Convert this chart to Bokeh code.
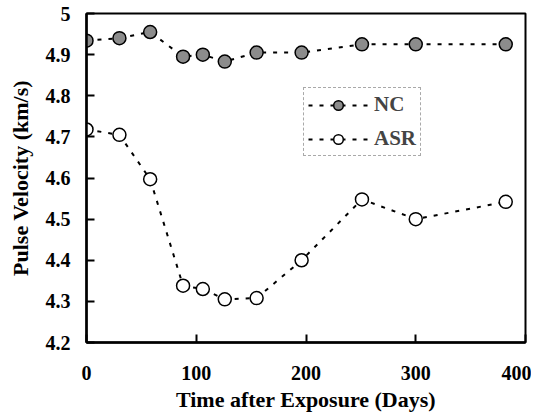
from bokeh.plotting import figure
from bokeh.models import Range1d, FixedTicker, Legend, LegendItem
from bokeh.embed import file_html
from bokeh.resources import INLINE

days = [0, 30, 58, 88, 106, 126, 155, 196, 251, 300, 382]
nc = [4.934, 4.940, 4.955, 4.895, 4.900, 4.883, 4.905, 4.905, 4.925, 4.925, 4.925]
asr = [4.718, 4.705, 4.597, 4.338, 4.330, 4.305, 4.308, 4.400, 4.548, 4.500, 4.542]
x_ticks = [0, 100, 200, 300, 400]
y_ticks = [4.2, 4.3, 4.4, 4.5, 4.6, 4.7, 4.8, 4.9, 5.0]

FONT = "Liberation Serif"

p = figure(width=531, height=418, output_backend="svg", toolbar_location=None,
           x_range=Range1d(0, 400), y_range=Range1d(4.2, 5.0),
           min_border_left=86, min_border_top=13, min_border_right=6, min_border_bottom=76)
p.background_fill_color = "white"
p.border_fill_color = "white"
p.outline_line_color = "black"
p.outline_line_width = 2
p.xgrid.visible = False
p.ygrid.visible = False

for ax in (p.xaxis[0], p.yaxis[0]):
    ax.axis_line_width = 2.5
    ax.axis_line_color = "black"
    ax.major_tick_in = 8
    ax.major_tick_out = 0
    ax.minor_tick_line_color = None
    ax.major_tick_line_width = 2
    ax.major_label_text_font = FONT
    ax.major_label_text_font_style = "bold"
    ax.major_label_text_font_size = "20px"
    ax.major_label_text_color = "black"
    ax.axis_label_text_font = FONT
    ax.axis_label_text_font_style = "bold"
    ax.axis_label_text_font_size = "22px"
    ax.axis_label_text_color = "black"

p.xaxis.ticker = FixedTicker(ticks=x_ticks)
p.yaxis.ticker = FixedTicker(ticks=y_ticks)
p.yaxis.major_label_overrides = {5.0: "5"}
p.xaxis.major_label_standoff = 23
p.yaxis.major_label_standoff = 16
p.xaxis.axis_label = "Time after Exposure (Days)"
p.yaxis.axis_label = "Pulse Velocity (km/s)"
p.xaxis.axis_label_standoff = 4
p.yaxis.axis_label_standoff = 10

l1 = p.line(days, nc, line_color="black", line_width=2, line_dash="4 7")
s1 = p.scatter(days, nc, size=13, fill_color="#8c8c8c", line_color="black", line_width=1.5)
l2 = p.line(days, asr, line_color="black", line_width=2, line_dash="4 7")
s2 = p.scatter(days, asr, size=13, fill_color="white", line_color="black", line_width=1.5)

legend = Legend(items=[LegendItem(label="NC", renderers=[l1, s1]),
                       LegendItem(label="ASR", renderers=[l2, s2])],
                location=(217, 186))
legend.label_text_font = FONT
legend.label_text_font_style = "bold"
legend.label_text_font_size = "21px"
legend.border_line_color = "#555555"
legend.border_line_dash = "dotted"
legend.border_line_width = 1
legend.glyph_width = 60
legend.glyph_height = 24
legend.label_height = 24
legend.label_standoff = 6
legend.spacing = 9
legend.padding = 4
legend.margin = 0
legend.background_fill_alpha = 1
p.add_layout(legend, "center")

open("out.html", "w").write(file_html(p, INLINE))
